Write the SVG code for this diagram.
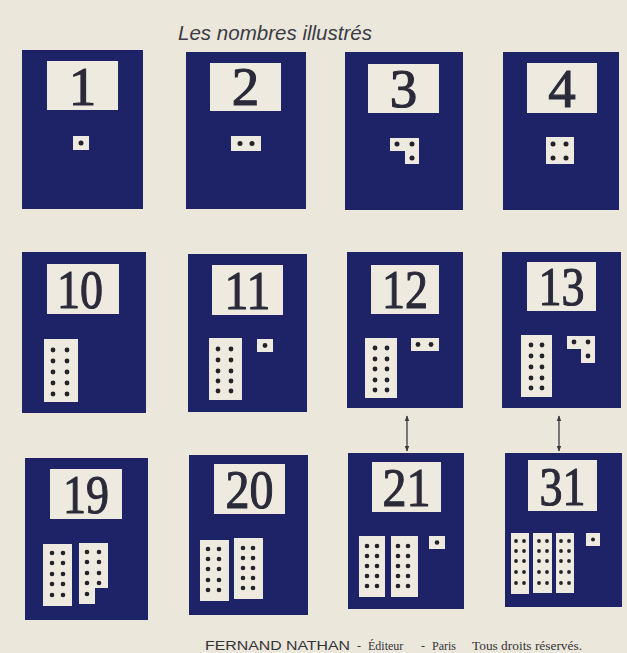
<svg xmlns="http://www.w3.org/2000/svg" width="627" height="653" viewBox="0 0 627 653">
<style>
.card{fill:#1e2367}
.lbl{fill:#eeeadf}
.box{fill:#eeeadf}
.dot{fill:#23222a}
.num{font-family:"Liberation Serif",serif;font-size:55px;fill:#2b2a3a;stroke:#2b2a3a;stroke-width:1.1;text-anchor:middle}
.ttl{font-family:"Liberation Sans",sans-serif;font-style:italic;font-size:20px;fill:#3b3b46}
.ftr{font-family:"Liberation Sans",sans-serif;font-size:12px;fill:#333338}
.ftr2{font-family:"Liberation Serif",serif;font-size:12px;fill:#333338}
.arr{stroke:#3a3a44;stroke-width:1.3;fill:none}
</style>
<defs>
<marker id="ah" viewBox="0 0 10 10" refX="9" refY="5" markerWidth="6" markerHeight="6" orient="auto-start-reverse" markerUnits="userSpaceOnUse">
<path d="M0,1 L10,5 L0,9 z" fill="#3a3a44"/>
</marker>
</defs>
<rect x="0" y="0" width="627" height="653" fill="#ebe7db"/>
<text class="ttl" x="178" y="40" textLength="194" lengthAdjust="spacingAndGlyphs">Les nombres illustrés</text>

<g id="card-1">
<rect class="card" x="22" y="50" width="121" height="159"/>
<rect class="lbl" x="47" y="61" width="71" height="49"/>
<text class="num" x="82.5" y="105">1</text>
<rect class="box" x="73" y="136" width="16" height="14"/>
<circle class="dot" cx="81" cy="143" r="2.5"/>
</g>

<g id="card-2">
<rect class="card" x="186" y="52" width="120" height="157"/>
<rect class="lbl" x="210" y="63" width="71" height="48"/>
<text class="num" x="245.5" y="105">2</text>
<rect class="box" x="231" y="136" width="30" height="15"/>
<circle class="dot" cx="240" cy="143.5" r="2.5"/>
<circle class="dot" cx="252" cy="143.5" r="2.5"/>
</g>

<g id="card-3">
<rect class="card" x="345" y="52" width="118" height="158"/>
<rect class="lbl" x="368" y="64" width="71" height="49"/>
<text class="num" x="403.5" y="107">3</text>
<polygon class="box" points="390,138 419,138 419,164 405,164 405,151 390,151"/>
<circle class="dot" cx="397" cy="144" r="2.5"/>
<circle class="dot" cx="412" cy="144" r="2.5"/>
<circle class="dot" cx="412" cy="158" r="2.5"/>
</g>

<g id="card-4">
<rect class="card" x="503" y="52" width="116" height="158"/>
<rect class="lbl" x="527" y="63" width="70" height="50"/>
<text class="num" x="562" y="107">4</text>
<rect class="box" x="546" y="137" width="28" height="27"/>
<circle class="dot" cx="553" cy="144" r="2.5"/>
<circle class="dot" cx="566" cy="144" r="2.5"/>
<circle class="dot" cx="553" cy="158" r="2.5"/>
<circle class="dot" cx="566" cy="158" r="2.5"/>
</g>

<g id="card-10">
<rect class="card" x="22" y="252" width="124" height="161"/>
<rect class="lbl" x="47" y="264" width="72" height="50"/>
<text class="num" x="80" y="308" textLength="46" lengthAdjust="spacingAndGlyphs">10</text>
<rect class="box" x="44" y="339" width="34" height="63"/>
<g class="dot">
<circle cx="53" cy="350" r="2.4"/><circle cx="67" cy="350" r="2.4"/>
<circle cx="53" cy="361" r="2.4"/><circle cx="67" cy="361" r="2.4"/>
<circle cx="53" cy="372" r="2.4"/><circle cx="67" cy="372" r="2.4"/>
<circle cx="53" cy="383" r="2.4"/><circle cx="67" cy="383" r="2.4"/>
<circle cx="53" cy="394" r="2.4"/><circle cx="67" cy="394" r="2.4"/>
</g>
</g>

<g id="card-11">
<rect class="card" x="188" y="254" width="119" height="158"/>
<rect class="lbl" x="212" y="265" width="71" height="50"/>
<text class="num" x="247.5" y="309" textLength="46" lengthAdjust="spacingAndGlyphs">11</text>
<rect class="box" x="209" y="338" width="33" height="62"/>
<g class="dot">
<circle cx="218" cy="349" r="2.4"/><circle cx="231" cy="349" r="2.4"/>
<circle cx="218" cy="360" r="2.4"/><circle cx="231" cy="360" r="2.4"/>
<circle cx="218" cy="371" r="2.4"/><circle cx="231" cy="371" r="2.4"/>
<circle cx="218" cy="381" r="2.4"/><circle cx="231" cy="381" r="2.4"/>
<circle cx="218" cy="391" r="2.4"/><circle cx="231" cy="391" r="2.4"/>
</g>
<rect class="box" x="257" y="339" width="16" height="13"/>
<circle class="dot" cx="265" cy="345.5" r="2.4"/>
</g>

<g id="card-12">
<rect class="card" x="347" y="252" width="116" height="156"/>
<rect class="lbl" x="371" y="265" width="68" height="49"/>
<text class="num" x="405" y="308" textLength="46" lengthAdjust="spacingAndGlyphs">12</text>
<rect class="box" x="365" y="338" width="32" height="60"/>
<g class="dot">
<circle cx="375" cy="348" r="2.4"/><circle cx="387" cy="348" r="2.4"/>
<circle cx="375" cy="359" r="2.4"/><circle cx="387" cy="359" r="2.4"/>
<circle cx="375" cy="369" r="2.4"/><circle cx="387" cy="369" r="2.4"/>
<circle cx="375" cy="380" r="2.4"/><circle cx="387" cy="380" r="2.4"/>
<circle cx="375" cy="390" r="2.4"/><circle cx="387" cy="390" r="2.4"/>
</g>
<rect class="box" x="411" y="338" width="28" height="13"/>
<circle class="dot" cx="418" cy="344.5" r="2.4"/>
<circle class="dot" cx="431" cy="344.5" r="2.4"/>
</g>

<g id="card-13">
<rect class="card" x="502" y="252" width="119" height="156"/>
<rect class="lbl" x="527" y="262" width="69" height="49"/>
<text class="num" x="561.5" y="305" textLength="46" lengthAdjust="spacingAndGlyphs">13</text>
<rect class="box" x="521" y="335" width="31" height="62"/>
<g class="dot">
<circle cx="531" cy="345" r="2.4"/><circle cx="542" cy="345" r="2.4"/>
<circle cx="531" cy="356" r="2.4"/><circle cx="542" cy="356" r="2.4"/>
<circle cx="531" cy="367" r="2.4"/><circle cx="542" cy="367" r="2.4"/>
<circle cx="531" cy="378" r="2.4"/><circle cx="542" cy="378" r="2.4"/>
<circle cx="531" cy="388" r="2.4"/><circle cx="542" cy="388" r="2.4"/>
</g>
<polygon class="box" points="567,336 595,336 595,363 581,363 581,349 567,349"/>
<circle class="dot" cx="574" cy="342" r="2.4"/>
<circle class="dot" cx="588" cy="342" r="2.4"/>
<circle class="dot" cx="588" cy="356" r="2.4"/>
</g>

<g id="card-19">
<rect class="card" x="25" y="458" width="123" height="162"/>
<rect class="lbl" x="50" y="469" width="72" height="50"/>
<text class="num" x="86" y="513" textLength="46" lengthAdjust="spacingAndGlyphs">19</text>
<rect class="box" x="43" y="544" width="29" height="62"/>
<g class="dot">
<circle cx="52" cy="553" r="2.3"/><circle cx="63" cy="553" r="2.3"/>
<circle cx="52" cy="563" r="2.3"/><circle cx="63" cy="563" r="2.3"/>
<circle cx="52" cy="574" r="2.3"/><circle cx="63" cy="574" r="2.3"/>
<circle cx="52" cy="584" r="2.3"/><circle cx="63" cy="584" r="2.3"/>
<circle cx="52" cy="595" r="2.3"/><circle cx="63" cy="595" r="2.3"/>
</g>
<polygon class="box" points="79,543 108,543 108,588 95,588 95,604 79,604"/>
<g class="dot">
<circle cx="87" cy="552" r="2.3"/><circle cx="99" cy="552" r="2.3"/>
<circle cx="87" cy="562" r="2.3"/><circle cx="99" cy="562" r="2.3"/>
<circle cx="87" cy="573" r="2.3"/><circle cx="99" cy="573" r="2.3"/>
<circle cx="87" cy="583" r="2.3"/><circle cx="99" cy="583" r="2.3"/>
<circle cx="87" cy="594" r="2.3"/>
</g>
</g>

<g id="card-20">
<rect class="card" x="189" y="455" width="119" height="160"/>
<rect class="lbl" x="214" y="464" width="71" height="50"/>
<text class="num" x="249.5" y="508" textLength="48" lengthAdjust="spacingAndGlyphs">20</text>
<rect class="box" x="200" y="540" width="29" height="61"/>
<g class="dot">
<circle cx="208" cy="549" r="2.3"/><circle cx="219" cy="549" r="2.3"/>
<circle cx="208" cy="559" r="2.3"/><circle cx="219" cy="559" r="2.3"/>
<circle cx="208" cy="569" r="2.3"/><circle cx="219" cy="569" r="2.3"/>
<circle cx="208" cy="580" r="2.3"/><circle cx="219" cy="580" r="2.3"/>
<circle cx="208" cy="590" r="2.3"/><circle cx="219" cy="590" r="2.3"/>
</g>
<rect class="box" x="234" y="538" width="29" height="61"/>
<g class="dot">
<circle cx="243" cy="548" r="2.3"/><circle cx="253" cy="548" r="2.3"/>
<circle cx="243" cy="558" r="2.3"/><circle cx="253" cy="558" r="2.3"/>
<circle cx="243" cy="568" r="2.3"/><circle cx="253" cy="568" r="2.3"/>
<circle cx="243" cy="578" r="2.3"/><circle cx="253" cy="578" r="2.3"/>
<circle cx="243" cy="588" r="2.3"/><circle cx="253" cy="588" r="2.3"/>
</g>
</g>

<g id="card-21">
<rect class="card" x="348" y="453" width="116" height="156"/>
<rect class="lbl" x="372" y="462" width="69" height="50"/>
<text class="num" x="406.5" y="506" textLength="48" lengthAdjust="spacingAndGlyphs">21</text>
<rect class="box" x="359" y="536" width="26" height="61"/>
<g class="dot">
<circle cx="367" cy="546" r="2.3"/><circle cx="377" cy="546" r="2.3"/>
<circle cx="367" cy="556" r="2.3"/><circle cx="377" cy="556" r="2.3"/>
<circle cx="367" cy="566" r="2.3"/><circle cx="377" cy="566" r="2.3"/>
<circle cx="367" cy="576" r="2.3"/><circle cx="377" cy="576" r="2.3"/>
<circle cx="367" cy="586" r="2.3"/><circle cx="377" cy="586" r="2.3"/>
</g>
<rect class="box" x="391" y="536" width="27" height="61"/>
<g class="dot">
<circle cx="398" cy="546" r="2.3"/><circle cx="408" cy="546" r="2.3"/>
<circle cx="398" cy="556" r="2.3"/><circle cx="408" cy="556" r="2.3"/>
<circle cx="398" cy="566" r="2.3"/><circle cx="408" cy="566" r="2.3"/>
<circle cx="398" cy="576" r="2.3"/><circle cx="408" cy="576" r="2.3"/>
<circle cx="398" cy="586" r="2.3"/><circle cx="408" cy="586" r="2.3"/>
</g>
<rect class="box" x="429" y="536" width="16" height="13"/>
<circle class="dot" cx="437" cy="542.5" r="2.3"/>
</g>

<g id="card-31">
<rect class="card" x="505" y="453" width="117" height="154"/>
<rect class="lbl" x="528" y="460" width="69" height="51"/>
<text class="num" x="562.5" y="505" textLength="46" lengthAdjust="spacingAndGlyphs">31</text>
<rect class="box" x="511" y="533" width="18" height="61"/>
<rect class="box" x="533" y="533" width="19" height="60"/>
<rect class="box" x="556" y="533" width="18" height="60"/>
<g class="dot">
<circle cx="516" cy="541" r="1.9"/><circle cx="524" cy="541" r="1.9"/>
<circle cx="516" cy="551" r="1.9"/><circle cx="524" cy="551" r="1.9"/>
<circle cx="516" cy="561" r="1.9"/><circle cx="524" cy="561" r="1.9"/>
<circle cx="516" cy="572" r="1.9"/><circle cx="524" cy="572" r="1.9"/>
<circle cx="516" cy="583" r="1.9"/><circle cx="524" cy="583" r="1.9"/>
<circle cx="539" cy="541" r="1.9"/><circle cx="547" cy="541" r="1.9"/>
<circle cx="539" cy="551" r="1.9"/><circle cx="547" cy="551" r="1.9"/>
<circle cx="539" cy="561" r="1.9"/><circle cx="547" cy="561" r="1.9"/>
<circle cx="539" cy="572" r="1.9"/><circle cx="547" cy="572" r="1.9"/>
<circle cx="539" cy="583" r="1.9"/><circle cx="547" cy="583" r="1.9"/>
<circle cx="561" cy="541" r="1.9"/><circle cx="569" cy="541" r="1.9"/>
<circle cx="561" cy="551" r="1.9"/><circle cx="569" cy="551" r="1.9"/>
<circle cx="561" cy="561" r="1.9"/><circle cx="569" cy="561" r="1.9"/>
<circle cx="561" cy="572" r="1.9"/><circle cx="569" cy="572" r="1.9"/>
<circle cx="561" cy="583" r="1.9"/><circle cx="569" cy="583" r="1.9"/>
</g>
<rect class="box" x="586" y="533" width="14" height="13"/>
<circle class="dot" cx="593" cy="539.5" r="2"/>
</g>

<g id="connectors">
<line class="arr" x1="407" y1="416" x2="407" y2="451" marker-start="url(#ah)" marker-end="url(#ah)"/>
<line class="arr" x1="559" y1="416" x2="559" y2="451" marker-start="url(#ah)" marker-end="url(#ah)"/>
</g>

<text class="ftr" x="205" y="650" textLength="145" lengthAdjust="spacingAndGlyphs">FERNAND NATHAN</text>
<text class="ftr2" x="357" y="650">-</text>
<text class="ftr2" x="368" y="650">Éditeur</text>
<text class="ftr2" x="421" y="650">-</text>
<text class="ftr2" x="432" y="650">Paris</text>
<text class="ftr2" x="472" y="650" textLength="110" lengthAdjust="spacingAndGlyphs">Tous droits réservés.</text>
</svg>
